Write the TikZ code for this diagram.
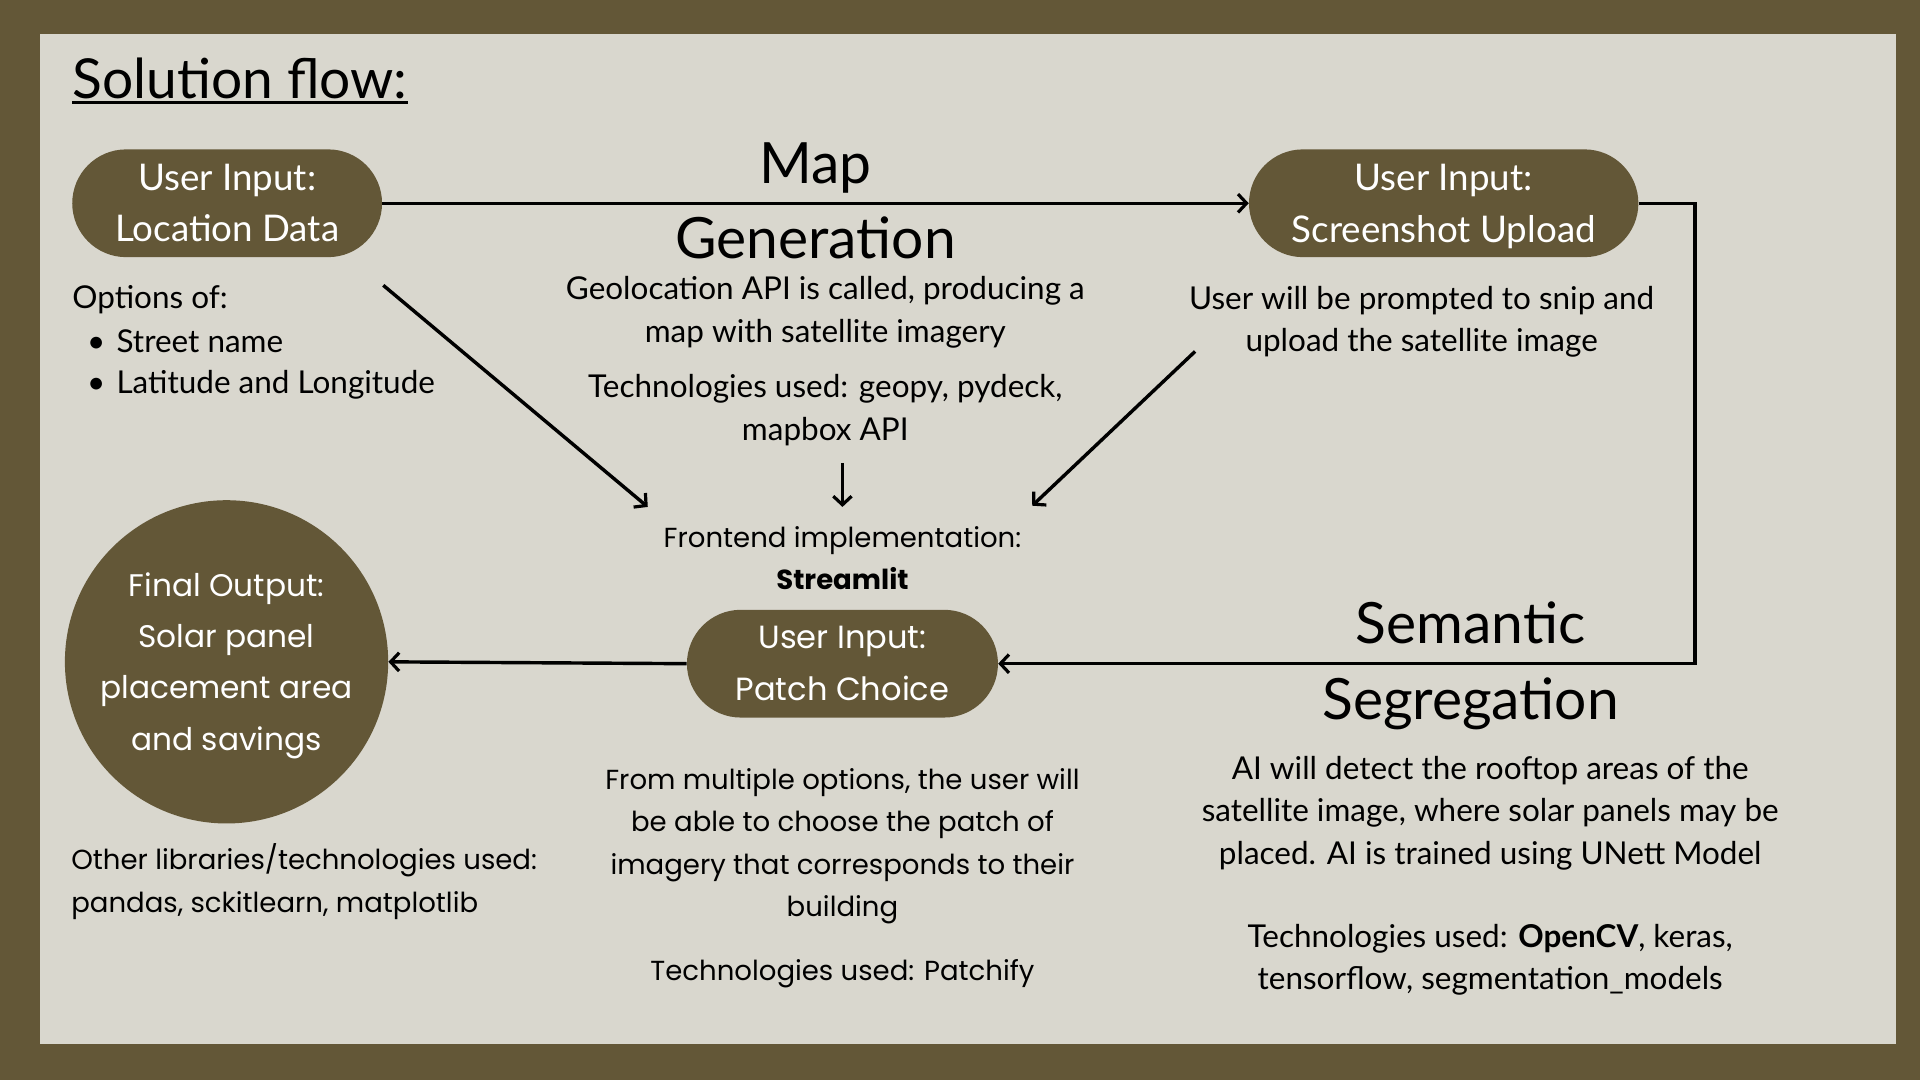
\documentclass[tikz,border=0pt]{standalone}
\usepackage{fontspec}
\setmainfont{Lato}
\newfontfamily\mfont{Poppins}
\usetikzlibrary{arrows.meta}
\definecolor{bgolive}{RGB}{99,87,55}
\definecolor{panel}{RGB}{217,215,206}
\newcommand{\nodepth}[1]{\raisebox{0pt}[\height][0pt]{#1}}
\begin{document}
\begin{tikzpicture}[x=1pt,y=-1pt,
  box/.style={fill=bgolive, text=white, rounded corners=44pt, minimum height=88pt, align=center, inner sep=0pt},
  gdesc/.style={align=center, inner sep=0pt, font=\fontsize{25.7}{34.5}\selectfont},
  mdesc/.style={align=center, inner sep=0pt, font=\mfont\fontsize{22.5}{34.5}\selectfont},
  big/.style={align=center, inner sep=0pt, font=\fontsize{46.5}{62}\selectfont},
  arr/.style={line width=2.8pt, -{Straight Barb[length=7pt,width=15pt,line width=2.6pt]}}
]
\fill[bgolive] (0,0) rectangle (1568,882);
\fill[panel] (33,28) rectangle (1548,853);

% title
\node[anchor=base west, inner sep=0pt, font=\fontsize{45}{50}\selectfont] (title) at (59,80.5) {Solution flow:};
\draw[line width=2.4pt] ([yshift=-3.5pt]title.base west) -- ([yshift=-3.5pt]title.base east);

% main nodes
\node[box, minimum width=253pt, font=\fontsize{30}{42}\selectfont] (A) at (185.5,166) {User Input:\\Location Data};
\node[box, minimum width=318pt, font=\fontsize{30}{42}\selectfont] (B) at (1179,166) {User Input:\\\nodepth{Screenshot Upload}};
\node[box, minimum width=254pt, font=\mfont\fontsize{26.2}{42}\selectfont] (C) at (688,542) {User Input:\\Patch Choice};
\node[circle, fill=bgolive, text=white, minimum size=264pt, inner sep=0pt, align=center, font=\mfont\fontsize{25.5}{41.8}\selectfont] (D) at (185,540.5) {\rule{0pt}{25.5pt}Final Output:\\Solar panel\\placement area\\and savings};

% labels
\node[big] (mg) at (666,164) {Map\\Generation};
\node[big] (ss) at (1201,544) {Semantic\\Segregation};
\node[gdesc] (geo) at (674,255) {Geolocation API is called, producing a\\map with satellite imagery};
\node[gdesc] (tech1) at (674,335) {Technologies used: geopy, pydeck,\\mapbox API};
\node[gdesc, anchor=west] (opt) at (59,245) {Options of:};
\node[gdesc, anchor=west] (b1) at (71,279) {\makebox[24pt][l]{•}Street name};
\node[gdesc, anchor=west] (b2) at (71,314) {\makebox[24pt][l]{•}Latitude and Longitude};
\node[gdesc] (snip) at (1161,263) {User will be prompted to snip and\\upload the satellite image};
\node[mdesc] (fe) at (688,456) {Frontend implementation:\\\textbf{Streamlit}};
\node[mdesc, align=left, anchor=west] (other) at (58,720) {Other libraries/technologies used:\\pandas, sckitlearn, matplotlib};
\node[mdesc] (multi) at (688,691) {From multiple options, the user will\\be able to choose the patch of\\imagery that corresponds to their\\building};
\node[mdesc] (patchify) at (688,795) {Technologies used: Patchify};
\node[gdesc] (ai) at (1217,664) {AI will detect the rooftop areas of the\\satellite image, where solar panels may be\\placed. AI is trained using UNett Model};
\node[gdesc] (tech3) at (1217,784) {Technologies used: \textbf{OpenCV}, keras,\\tensorflow, segmentation\_models};

% connectors
\coordinate (a1s) at (313,233);
\coordinate (a1e) at (529,414);
\coordinate (a2s) at (688,378);
\coordinate (a2e) at (688,414);
\coordinate (a3s) at (976,287);
\coordinate (a3e) at (843,413);
\draw[arr] (A.east) -- (B.west);
\draw[arr] (B.east) -- ++(46,0) |- (C.east);
\draw[arr] (C.west) -- (D.east);
\draw[arr] (a1s) -- (a1e);
\draw[arr] (a2s) -- (a2e);
\draw[arr] (a3s) -- (a3e);
\end{tikzpicture}
\end{document}
